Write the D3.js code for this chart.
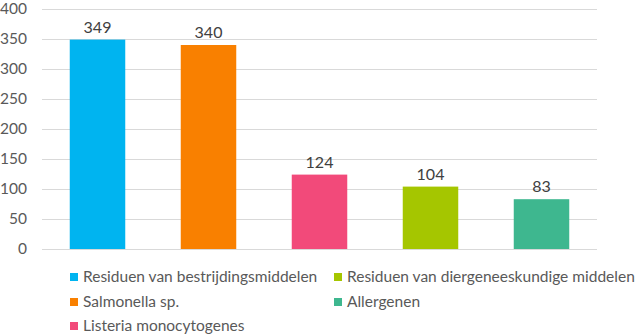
<!DOCTYPE html>
<html>
<head>
<meta charset="utf-8">
<script src="https://cdn.jsdelivr.net/npm/d3@7"></script>
<style>
  html, body { margin: 0; padding: 0; background: #fff; }
  svg { display: block; font-family: Lato, "Open Sans", sans-serif; }
</style>
</head>
<body>
<svg id="chart" width="637" height="336"></svg>
<script>
const categories = [
  "Residuen van bestrijdingsmiddelen",
  "Salmonella sp.",
  "Listeria monocytogenes",
  "Residuen van diergeneeskundige middelen",
  "Allergenen"
];
const values = [349, 340, 124, 104, 83];
const colors = ["#00B4F0", "#F98000", "#F24A7A", "#A5C600", "#3EB78F"];
const yTicks = [0, 50, 100, 150, 200, 250, 300, 350, 400];

const svg = d3.select("#chart");
const margin = { left: 42, right: 40, top: 9, bottom: 87 };
const W = 637, H = 336;

const x = d3.scaleBand().domain(categories)
  .range([margin.left, W - margin.right]).paddingInner(0.5).paddingOuter(0.25);
const y = d3.scaleLinear().domain([0, 400]).range([H - margin.bottom, margin.top]);

// gridlines
svg.append("g").selectAll("line").data(yTicks).join("line")
  .attr("x1", margin.left).attr("x2", W - margin.right)
  .attr("y1", d => y(d) + 0.5).attr("y2", d => y(d) + 0.5)
  .attr("stroke", "#d9d9d9").attr("stroke-width", 1);

// y axis labels
const yAxis = d3.axisLeft(y).tickValues(yTicks).tickSize(0).tickPadding(15);
svg.append("g").attr("transform", `translate(${margin.left},0)`).call(yAxis)
  .call(g => g.select(".domain").remove())
  .call(g => g.selectAll("text").attr("fill", "#595959")
    .style("font-size", "15.5px").style("font-family", "Lato, sans-serif"));

// bars
svg.append("g").selectAll("rect").data(categories).join("rect")
  .attr("x", d => x(d)).attr("width", x.bandwidth())
  .attr("y", (d, i) => y(values[i])).attr("height", (d, i) => y(0) - y(values[i]))
  .attr("fill", (d, i) => colors[i]);

// value labels
svg.append("g").selectAll("text").data(categories).join("text")
  .attr("x", d => x(d) + x.bandwidth() / 2)
  .attr("y", (d, i) => y(values[i]) - 7)
  .attr("text-anchor", "middle").attr("fill", "#404040")
  .style("font-size", "16px")
  .text((d, i) => values[i]);

// legend in two columns, column-major order
const legendPos = [
  [70, 277], [70, 302], [70, 326], [334, 277], [334, 302]
];
const lg = svg.append("g").selectAll("g").data(categories).join("g")
  .attr("transform", (d, i) => `translate(${legendPos[i][0]},${legendPos[i][1]})`);
lg.append("rect").attr("x", 0).attr("y", -4).attr("width", 8).attr("height", 8)
  .attr("fill", (d, i) => colors[i]);
lg.append("text").attr("x", 13).attr("y", 0).attr("dy", "0.35em")
  .attr("fill", "#595959").style("font-size", "15.5px").text(d => d);
</script>
</body>
</html>
